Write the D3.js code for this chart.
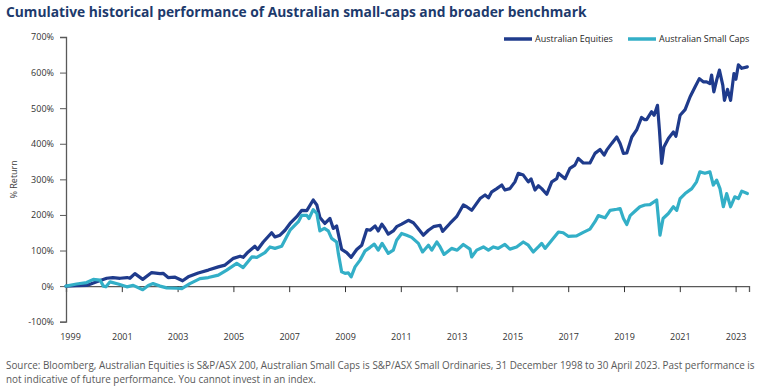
<!DOCTYPE html>
<html lang="en">
  <head>
    <meta charset="UTF-8" />
    <title>Cumulative historical performance</title>
    <script src="https://d3js.org/d3.v7.min.js"></script>
    <style>
      body { margin: 0; background: #fff; }
      text { font-family: "Open Sans", "Noto Sans", sans-serif; }
    </style>
  </head>
  <body>
    <div id="chart"></div>
  </body>
</html>

<script>
  // data (years as decimals, values in % return)
  const eqYears = [1999.00, 1999.36, 1999.74, 2000.10, 2000.46, 2000.68, 2000.94, 2001.19, 2001.29, 2001.47, 2001.75, 2002.07, 2002.37, 2002.48, 2002.66, 2002.91, 2003.18, 2003.38, 2003.74, 2004.10, 2004.46, 2004.70, 2005.00, 2005.24, 2005.35, 2005.53, 2005.77, 2005.87, 2006.07, 2006.37, 2006.49, 2006.67, 2006.85, 2007.03, 2007.27, 2007.45, 2007.63, 2007.86, 2007.99, 2008.10, 2008.28, 2008.46, 2008.58, 2008.70, 2008.88, 2009.06, 2009.22, 2009.42, 2009.60, 2009.78, 2009.90, 2010.08, 2010.19, 2010.32, 2010.43, 2010.55, 2010.73, 2010.85, 2011.03, 2011.27, 2011.45, 2011.57, 2011.81, 2011.99, 2012.17, 2012.41, 2012.50, 2012.76, 2013.00, 2013.24, 2013.36, 2013.54, 2013.84, 2014.02, 2014.14, 2014.26, 2014.44, 2014.62, 2014.73, 2014.91, 2015.09, 2015.21, 2015.39, 2015.57, 2015.67, 2015.81, 2015.93, 2016.05, 2016.23, 2016.41, 2016.59, 2016.65, 2016.89, 2017.06, 2017.24, 2017.36, 2017.54, 2017.78, 2017.96, 2018.14, 2018.29, 2018.38, 2018.56, 2018.74, 2018.86, 2018.98, 2019.10, 2019.28, 2019.46, 2019.63, 2019.73, 2019.81, 2019.99, 2020.08, 2020.20, 2020.27, 2020.35, 2020.43, 2020.59, 2020.77, 2020.86, 2021.01, 2021.19, 2021.37, 2021.55, 2021.70, 2021.84, 2021.96, 2022.08, 2022.14, 2022.22, 2022.32, 2022.42, 2022.54, 2022.60, 2022.71, 2022.82, 2022.94, 2023.01, 2023.10, 2023.22, 2023.42]
  const eqValues = [0, 1, 2, 12, 22, 24, 22, 24, 22, 35, 19, 38, 35, 36, 24, 25, 15, 26, 37, 45, 54, 59, 78, 84, 81, 96, 112, 103, 124, 150, 138, 143, 157, 176, 195, 213, 212, 242, 228, 193, 176, 190, 162, 169, 103, 94, 81, 103, 115, 159, 157, 169, 155, 174, 162, 146, 155, 167, 174, 185, 178, 167, 143, 157, 167, 171, 154, 176, 195, 228, 223, 213, 246, 256, 248, 265, 274, 284, 270, 274, 293, 317, 312, 293, 301, 270, 282, 274, 258, 293, 302, 317, 302, 331, 340, 359, 346, 346, 373, 384, 368, 382, 401, 419, 401, 373, 374, 419, 440, 474, 468, 468, 490, 480, 508, 438, 345, 391, 415, 433, 421, 480, 496, 532, 560, 583, 574, 574, 569, 593, 546, 579, 607, 565, 522, 553, 522, 597, 581, 622, 612, 616]

  const scYears = [1999.00, 1999.38, 1999.74, 1999.98, 2000.22, 2000.34, 2000.43, 2000.58, 2000.87, 2001.18, 2001.41, 2001.75, 2001.95, 2002.12, 2002.37, 2002.61, 2002.97, 2003.15, 2003.44, 2003.80, 2004.10, 2004.46, 2004.76, 2005.12, 2005.35, 2005.66, 2005.84, 2006.13, 2006.31, 2006.49, 2006.73, 2007.03, 2007.33, 2007.45, 2007.63, 2007.71, 2007.86, 2007.99, 2008.10, 2008.26, 2008.40, 2008.52, 2008.70, 2008.76, 2008.88, 2009.00, 2009.12, 2009.22, 2009.36, 2009.54, 2009.72, 2009.90, 2010.05, 2010.19, 2010.33, 2010.55, 2010.73, 2010.85, 2011.03, 2011.21, 2011.39, 2011.63, 2011.78, 2011.99, 2012.11, 2012.29, 2012.41, 2012.55, 2012.82, 2013.02, 2013.24, 2013.48, 2013.54, 2013.72, 2013.96, 2014.14, 2014.32, 2014.49, 2014.73, 2014.91, 2015.15, 2015.39, 2015.57, 2015.75, 2015.93, 2016.05, 2016.17, 2016.41, 2016.65, 2016.82, 2017.00, 2017.30, 2017.54, 2017.78, 2017.96, 2018.08, 2018.32, 2018.50, 2018.74, 2018.86, 2018.98, 2019.10, 2019.22, 2019.40, 2019.57, 2019.75, 2019.93, 2020.17, 2020.29, 2020.40, 2020.59, 2020.77, 2020.89, 2021.01, 2021.19, 2021.43, 2021.60, 2021.72, 2021.90, 2022.08, 2022.20, 2022.32, 2022.44, 2022.56, 2022.68, 2022.82, 2022.97, 2023.10, 2023.22, 2023.42]
  const scValues = [0, 6, 10, 19, 17, 0, -2, 12, 6, -2, 2, -10, 2, 7, 0, -5, -6, -7, 7, 21, 24, 31, 45, 64, 52, 82, 81, 94, 110, 106, 112, 157, 181, 199, 199, 190, 215, 204, 155, 162, 155, 134, 124, 92, 40, 36, 37, 26, 54, 73, 99, 109, 118, 101, 120, 92, 101, 129, 148, 143, 137, 120, 96, 115, 101, 124, 110, 89, 106, 101, 117, 104, 82, 101, 110, 101, 110, 106, 117, 104, 110, 124, 115, 96, 110, 120, 106, 129, 152, 150, 140, 141, 151, 160, 181, 198, 192, 213, 216, 218, 190, 173, 198, 211, 223, 228, 229, 242, 143, 190, 204, 223, 213, 246, 260, 274, 293, 321, 317, 321, 284, 298, 274, 223, 260, 223, 251, 246, 267, 260]

  const seriesNames = ["Australian Equities", "Australian Small Caps"]
  const yTicks = [-100, 0, 100, 200, 300, 400, 500, 600, 700]
  const xTicks = [1999, 2001, 2003, 2005, 2007, 2009, 2011, 2013, 2015, 2017, 2019, 2021, 2023]

  const colors = ["#1f3b8c", "#33afc7"]
  const width = 762
  const height = 388

  const svg = d3
    .select("#chart")
    .append("svg")
    .attr("width", width)
    .attr("height", height)

  const x = d3.scaleLinear().domain([1999, 2023.48]).range([66, 749])
  const y = d3.scaleLinear().domain([-100, 700]).range([321.7, 37])

  // title
  svg
    .append("text")
    .attr("x", 6)
    .attr("y", 17)
    .attr("font-size", 13.8)
    .attr("font-weight", "bold")
    .attr("fill", "#1d3a6c")
    .text("Cumulative historical performance of Australian small-caps and broader benchmark")

  // y axis
  const yAxis = svg
    .append("g")
    .attr("transform", "translate(66,0)")
    .call(
      d3.axisLeft(y)
        .tickValues(yTicks)
        .tickFormat((d) => d + "%")
        .tickSize(6)
        .tickPadding(6)
    )
  yAxis.select(".domain").attr("stroke", "#595959").attr("stroke-width", 1.3)
  yAxis.selectAll(".tick line").attr("stroke", "#595959")
  yAxis.selectAll("text").attr("font-size", 9).attr("fill", "#333").style("font-family", "'Open Sans', sans-serif")

  // zero line with year ticks
  const zeroAxis = svg
    .append("g")
    .attr("transform", `translate(0,${y(0)})`)
    .call(d3.axisBottom(x).tickValues(xTicks.slice(1)).tickSize(6).tickFormat(""))
  zeroAxis.select(".domain").attr("stroke", "#595959").attr("stroke-width", 1.3)
  zeroAxis.selectAll(".tick line").attr("stroke", "#333")

  // year labels along the bottom
  const labelAxis = svg
    .append("g")
    .attr("transform", `translate(0,${y(-100)})`)
    .call(d3.axisBottom(x).tickValues(xTicks).tickSize(0).tickPadding(12).tickFormat(d3.format("d")))
  labelAxis.select(".domain").remove()
  labelAxis.selectAll("text").attr("font-size", 9).attr("fill", "#333").style("font-family", "'Open Sans', sans-serif")
  labelAxis.selectAll(".tick").filter((d) => d === 1999).select("text").attr("dx", 4)

  // y axis title
  svg
    .append("text")
    .attr("transform", `translate(17,${y(300)}) rotate(-90)`)
    .attr("text-anchor", "middle")
    .attr("font-size", 9)
    .attr("fill", "#404040")
    .text("% Return")

  // lines
  const line = d3
    .line()
    .x((d) => x(d[0]))
    .y((d) => y(d[1]))

  const series = [
    d3.zip(eqYears, eqValues),
    d3.zip(scYears, scValues)
  ]

  svg
    .selectAll(".series")
    .data(series)
    .enter()
    .append("path")
    .attr("class", "series")
    .attr("d", line)
    .attr("fill", "none")
    .attr("stroke", (d, i) => colors[i])
    .attr("stroke-width", 3.2)
    .attr("stroke-linejoin", "round")
    .attr("stroke-linecap", "round")

  // legend
  const legendX = [504, 628]
  const legend = svg
    .selectAll(".legend")
    .data(seriesNames)
    .enter()
    .append("g")
    .attr("class", "legend")
    .attr("transform", (d, i) => `translate(${legendX[i]},39)`)
  legend
    .append("line")
    .attr("x1", 0)
    .attr("x2", 28)
    .attr("stroke", (d, i) => colors[i])
    .attr("stroke-width", 3.5)
  legend
    .append("text")
    .attr("x", 31)
    .attr("dy", "0.35em")
    .attr("font-size", 9)
    .attr("fill", "#262626")
    .text((d) => d)

  // source note
  const notes = [
    "Source: Bloomberg, Australian Equities is S&P/ASX 200, Australian Small Caps is S&P/ASX Small Ordinaries, 31 December 1998 to 30 April 2023. Past performance is",
    "not indicative of future performance. You cannot invest in an index."
  ]
  svg
    .selectAll(".note")
    .data(notes)
    .enter()
    .append("text")
    .attr("class", "note")
    .attr("x", 6)
    .attr("y", (d, i) => 369 + i * 14)
    .attr("font-size", 9.9)
    .attr("fill", "#595959")
    .text((d) => d)
</script>
